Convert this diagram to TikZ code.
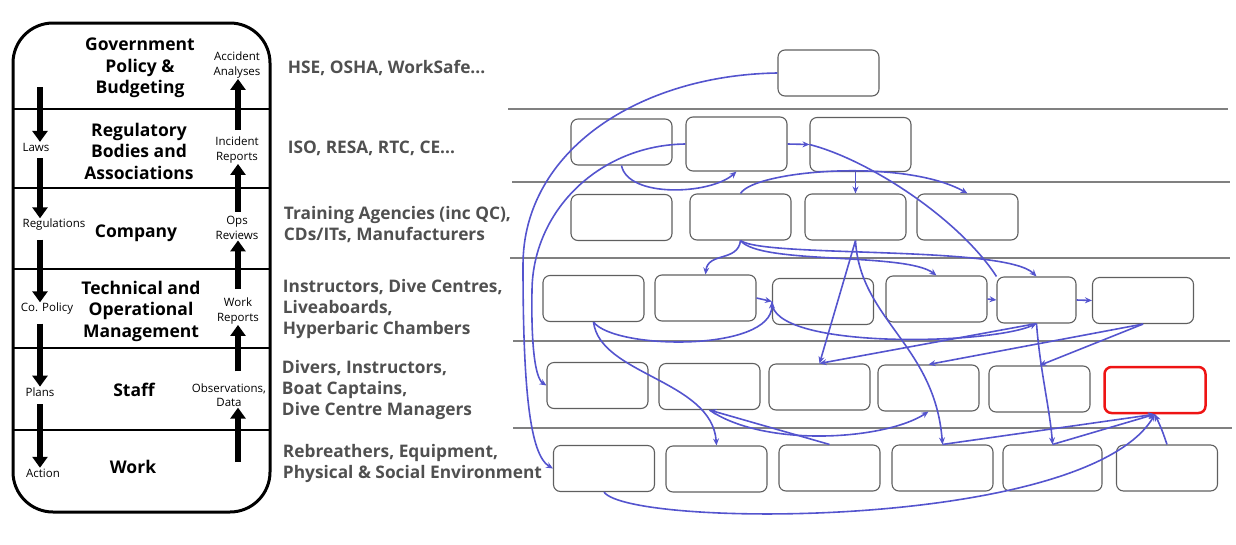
\documentclass[tikz,border=0pt]{standalone}
\usepackage{fontspec}
\setmainfont{Open Sans}
\usetikzlibrary{arrows.meta}
\definecolor{linkblue}{RGB}{84,84,206}
\definecolor{boxgray}{RGB}{95,95,95}
\definecolor{txtgray}{RGB}{80,80,80}
\definecolor{redbox}{RGB}{238,20,20}
\tikzset{
  layer/.style={font=\fontsize{17.5}{21.5}\selectfont\bfseries, align=center, inner sep=0.75pt},
  flowlbl/.style={font=\fontsize{11.5}{14.5}\selectfont, align=center, inner sep=0.75pt},
  actor/.style={font=\fontsize{17.3}{21}\selectfont\bfseries, text=txtgray, align=left, anchor=west, inner sep=0.75pt},
  blank/.style={draw=boxgray, line width=1.1pt, rounded corners=7pt, minimum width=101pt, minimum height=46pt, inner sep=0pt},
  flow/.style={line width=6pt, -{Triangle[width=15pt,length=11pt]}},
  link/.style={draw=linkblue, line width=1.6pt, -{Stealth[length=7pt,width=6pt]}},
  sep/.style={draw=gray, line width=1.2pt}
}
\begin{document}
\begin{tikzpicture}[x=1pt,y=1pt,yscale=-1]
\useasboundingbox (0,0) rectangle (1236,544);
%left panel
\draw [line width=3pt, rounded corners=40pt] (13,23) rectangle (270,512);
\foreach \y in {109,188,269,348,430} \draw [line width=2.5pt] (13,\y) -- (270,\y);
\node [layer] (gov) at (140,68) {Government\\Policy \&\\Budgeting};
\node [layer] (reg) at (139,151) {Regulatory\\Bodies and\\Associations};
\node [layer] (com) at (136,233) {Company};
\node [layer] (mgt) at (141,311) {Technical and\\Operational\\Management};
\node [layer] (stf) at (134,390) {Staff};
\node [layer] (wrk) at (133,467) {Work};
%control, downwards
\node [flowlbl] (laws) at (36,147) {Laws};
\node [flowlbl] (regs) at (54,225) {Regulations};
\node [flowlbl] (pol) at (47,309) {Co. Policy};
\node [flowlbl] (plan) at (40,392) {Plans};
\node [flowlbl] (act) at (43,473) {Action};
\draw [flow] (40,87) -- (laws.north -| 40,0);
\draw [flow] (laws.south -| 40,0) ++(0,6) -- (regs.north -| 40,0);
\draw [flow] (regs.south -| 40,0) ++(0,8) -- (pol.north -| 40,0);
\draw [flow] (pol.south -| 40,0) ++(0,8) -- (plan.north -| 40,0);
\draw [flow] (plan.south -| 40,0) ++(0,7) -- (act.north -| 40,0);
%feedback, upwards
\node [flowlbl] (acc) at (237,65) {Accident\\Analyses};
\node [flowlbl] (inc) at (237,150) {Incident\\Reports};
\node [flowlbl] (ops) at (237,228) {Ops\\Reviews};
\node [flowlbl] (wrep) at (238,311) {Work\\Reports};
\node [flowlbl] (obs) at (229,395) {Observations,\\Data};
\draw [flow] (inc.north -| 238,0) ++(0,-6) -- (acc.south -| 238,0);
\draw [flow] (ops.north -| 238,0) ++(0,-4) -- (inc.south -| 238,0);
\draw [flow] (wrep.north -| 238,0) ++(0,-8) -- (ops.south -| 238,0);
\draw [flow] (obs.north -| 238,0) ++(0,-11) -- (wrep.south -| 238,0);
\draw [flow] (238,462) -- (obs.south -| 238,0);
%actors
\node [actor] (hse) at (287,68) {HSE, OSHA, WorkSafe...};
\node [actor] (iso) at (287,148) {ISO, RESA, RTC, CE...};
\node [actor] (tra) at (283,225) {Training Agencies (inc QC),\\CDs/ITs, Manufacturers};
\node [actor] (ins) at (282,309) {Instructors, Dive Centres,\\Liveaboards,\\Hyperbaric Chambers};
\node [actor] (div) at (281,390) {Divers, Instructors,\\Boat Captains,\\Dive Centre Managers};
\node [actor] (reb) at (282,463.5) {Rebreathers, Equipment,\\Physical \& Social Environment};
%network rows
\draw [sep] (508,109) -- (1228,109);
\draw [sep] (512,182) -- (1230,182);
\draw [sep] (510,258) -- (1230,258);
\draw [sep] (513,341) -- (1230,341);
\draw [sep] (513,428) -- (1232,428);
\node [blank] (g1) at (828.5,73) {};
\node [blank] (r1) at (621.5,142) {};
\node [blank, minimum height=54pt] (r2) at (736.5,144) {};
\node [blank, minimum height=54pt] (r3) at (860.5,144.5) {};
\node [blank] (c1) at (621.5,217.5) {};
\node [blank] (c2) at (740.5,217) {};
\node [blank] (c3) at (855.5,217) {};
\node [blank] (c4) at (967.5,217) {};
\node [blank] (m1) at (593.5,298.5) {};
\node [blank] (m2) at (705.5,298) {};
\node [blank] (m3) at (823,301.5) {};
\node [blank] (m4) at (936.5,299) {};
\node [blank, minimum width=79pt] (m5) at (1036.5,300) {};
\node [blank] (m6) at (1143,300.5) {};
\node [blank] (s1) at (597.5,385.5) {};
\node [blank] (s2) at (709.5,386.5) {};
\node [blank] (s3) at (819.5,387) {};
\node [blank] (s4) at (928.5,388) {};
\node [blank] (s5) at (1039.5,389) {};
\node [blank, draw=redbox, line width=2.5pt] (s6) at (1155,390) {};
\node [blank] (w1) at (604,468.5) {};
\node [blank] (w2) at (716.5,469) {};
\node [blank] (w3) at (829.5,468) {};
\node [blank] (w4) at (942.5,468) {};
\node [blank, minimum width=99pt] (w5) at (1052.5,468) {};
\node [blank] (w6) at (1167,468) {};
%links
\draw [link] (g1.west) .. controls (640,75) and (523,150) .. (523,265) .. controls (523,390) and (530,455) .. (w1.west);
\draw [link] (r2.west) .. controls (600,145) and (533,210) .. (532,290) .. controls (531,345) and (535,378) .. (s1.west);
\draw [link] (r1.south) .. controls (628,198) and (710,195) .. (r2.south);
\draw [link] (r2.east) -- (r3.west);
\draw [draw=linkblue, line width=1.6pt] (r3.west) .. controls (870,160) and (960,220) .. (m5.north west);
\draw [link] (r3.south -| c3.north) -- (c3.north);
\draw [link] (c2.north) .. controls (755,170) and (905,158) .. (c4.north);
\draw [link] (c2.south) .. controls (738,262) and (708,252) .. (m2.north);
\draw [link] (c2.south) .. controls (760,265) and (905,252) .. (m4.north);
\draw [link] (c2.south) .. controls (765,258) and (1005,245) .. (m5.north);
\draw [link] (c3.south) -- (s3.north);
\draw [link] (c3.south) .. controls (860,320) and (935,345) .. (w4.north);
\draw [link] (m4.east) -- (m5.west);
\draw [link] (m5.east) -- (m6.west);
\draw [link] (m1.south) .. controls (615,350) and (772,352) .. (m3.west);
\draw [link] (m2.east) -- (m3.west);
\draw [link] (m3.west) .. controls (770,350) and (990,345) .. (m5.south);
\draw [link] (m5.south) -- (s3.north);
\draw [link] (m5.south) .. controls (1040,370) and (1050,410) .. (w5.north);
\draw [link] (m6.south) -- (s4.north);
\draw [link] (m6.south) -- (s5.north);
\draw [link] (m1.south) .. controls (600,375) and (712,380) .. (w2.north);
\draw [link] (w3.north) -- (s2.south);
\draw [link] (s2.south) .. controls (765,448) and (885,440) .. (s4.south);
\draw [link] (w4.north) -- (s6.south);
\draw [link] (w5.north) -- (s6.south);
\draw [link] (w6.north) .. controls (1162,430) .. (s6.south);
\draw [link] (w1.south) .. controls (630,528) and (1085,530) .. (s6.south);
\end{tikzpicture}
\end{document}
